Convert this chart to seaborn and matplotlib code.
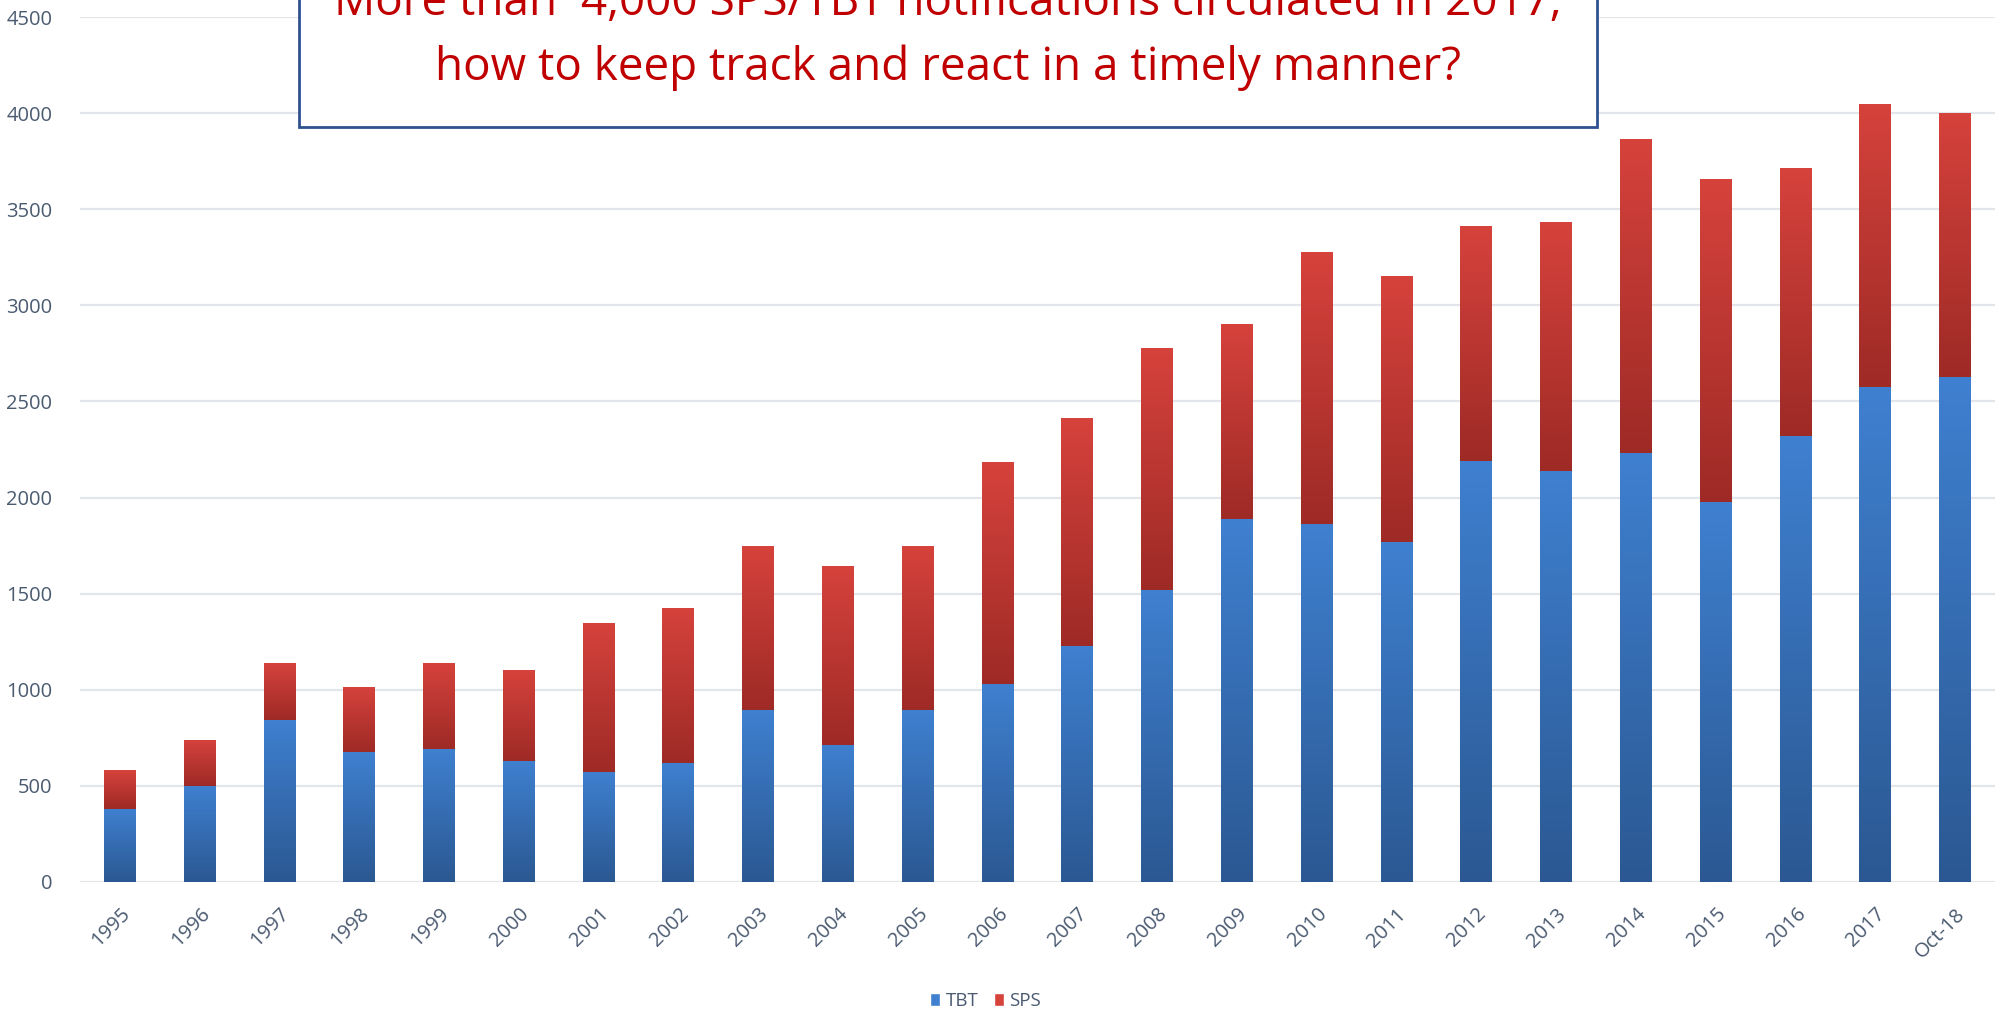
import numpy as np
import pandas as pd
import matplotlib
matplotlib.use("Agg")
import matplotlib.pyplot as plt
import seaborn as sns
from matplotlib.colors import LinearSegmentedColormap
from matplotlib.patches import Patch, Rectangle

# data
years = ["1995", "1996", "1997", "1998", "1999", "2000", "2001", "2002", "2003",
         "2004", "2005", "2006", "2007", "2008", "2009", "2010", "2011", "2012",
         "2013", "2014", "2015", "2016", "2017", "Oct-18"]
tbt = [380, 500, 845, 675, 692, 630, 573, 618, 895, 715, 895, 1030, 1230, 1520,
       1890, 1865, 1768, 2192, 2136, 2232, 1977, 2318, 2575, 2625]
total = [580, 740, 1141, 1012, 1141, 1101, 1347, 1428, 1747, 1644, 1747, 2184,
         2413, 2778, 2904, 3275, 3153, 3411, 3432, 3864, 3656, 3712, 4050, 4002]
yticks = [0, 500, 1000, 1500, 2000, 2500, 3000, 3500, 4000, 4500]

title_lines = ["More than  4,000 SPS/TBT notifications circulated in 2017;",
               "how to keep track and react in a timely manner?"]

df = pd.DataFrame({"Year": years, "TBT": tbt, "Total": total})

sns.set_theme(style="white")
fonts = ["Open Sans", "DejaVu Sans"]
plt.rcParams["font.family"] = fonts

fig = plt.figure(figsize=(19.95, 10.14), dpi=100)
ax = fig.add_axes([0.0401, 0.1302, 0.9599, 0.853])

blue_top, blue_bot = "#3F80D0", "#2B5892"
red_top, red_bot = "#D6423C", "#9E2A26"

sns.barplot(data=df, x="Year", y="Total", color=red_top, width=0.4,
            saturation=1, ax=ax, zorder=2)
sns.barplot(data=df, x="Year", y="TBT", color=blue_top, width=0.4,
            saturation=1, ax=ax, zorder=3)

# gradient fill for each bar segment
red_cmap = LinearSegmentedColormap.from_list("r", [red_bot, red_top])
blue_cmap = LinearSegmentedColormap.from_list("b", [blue_bot, blue_top])
grad = np.linspace(0, 1, 256).reshape(-1, 1)

for bar, lo, hi in zip(ax.containers[0], tbt, total):
    x0, w = bar.get_x(), bar.get_width()
    im = ax.imshow(grad, extent=(x0, x0 + w, lo, hi), origin="lower",
                   aspect="auto", cmap=red_cmap, zorder=2)
    im.set_clip_path(bar)
    bar.set_facecolor("none")
    bar.set_edgecolor("none")

for bar, hi in zip(ax.containers[1], tbt):
    x0, w = bar.get_x(), bar.get_width()
    im = ax.imshow(grad, extent=(x0, x0 + w, 0, hi), origin="lower",
                   aspect="auto", cmap=blue_cmap, zorder=3)
    im.set_clip_path(bar)
    bar.set_facecolor("none")
    bar.set_edgecolor("none")

ax.set_xlim(-0.5, 23.5)
ax.set_ylim(0, 4500)
ax.set_yticks(yticks)
ax.set_yticklabels([str(v) for v in yticks])
ax.set_xlabel("")
ax.set_ylabel("")
for s in ax.spines.values():
    s.set_visible(False)
ax.grid(axis="y", color="#E2E6EB", linewidth=1.6, zorder=0)
ax.set_axisbelow(True)

tick_color = "#4A5A70"
ax.tick_params(axis="y", length=0, pad=20, labelsize=14.5, labelcolor=tick_color)
ax.tick_params(axis="x", length=0, pad=16, labelsize=14.5, labelcolor=tick_color)
for lbl in ax.get_xticklabels():
    lbl.set_rotation(45)
    lbl.set_ha("right")
    lbl.set_va("top")
    lbl.set_rotation_mode("anchor")

# legend at the bottom
handles = [Patch(facecolor=blue_top, label="TBT"), Patch(facecolor=red_top, label="SPS")]
fig.legend(handles=handles, loc="center", bbox_to_anchor=(0.494, 0.013), ncol=2,
           frameon=False, fontsize=13.5, handlelength=0.55, handleheight=0.7,
           handletextpad=0.3, columnspacing=0.8, labelcolor=tick_color)

# callout box at the top
box = Rectangle((299 / 1995, 1 - 127 / 1014), (1597 - 299) / 1995, 0.2,
                transform=fig.transFigure, facecolor="white", edgecolor="#2F528F",
                linewidth=2, zorder=5)
fig.add_artist(box)
fig.text(948 / 1995, 1 - 15 / 1014, title_lines[0], ha="center", va="baseline",
         color="#C00000", fontsize=33, zorder=6)
fig.text(948 / 1995, 1 - 80 / 1014, title_lines[1], ha="center", va="baseline",
         color="#C00000", fontsize=33, zorder=6)

fig.savefig("out.png", dpi=100)
